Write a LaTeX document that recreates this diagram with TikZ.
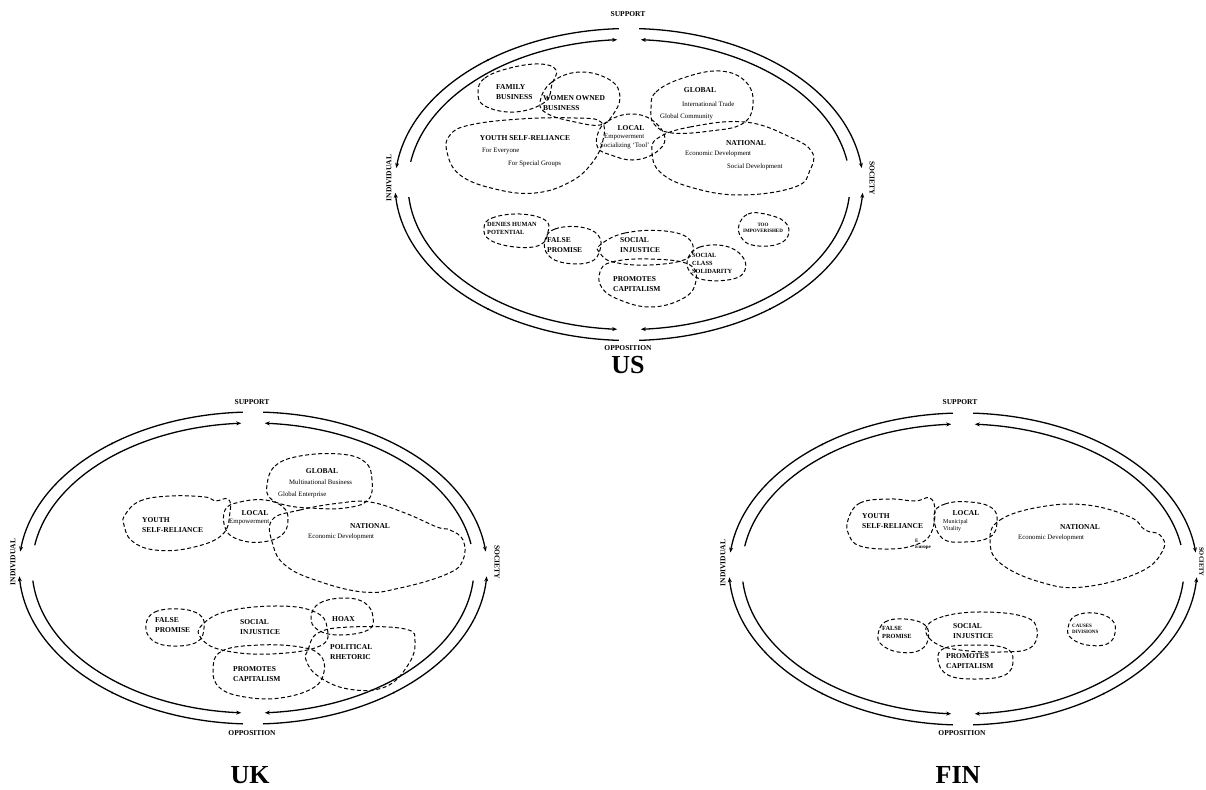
\documentclass[tikz,border=0pt]{standalone}
\usepackage{fontspec}
\setmainfont{Liberation Serif}
\usetikzlibrary{arrows.meta}

% one arc of an elliptic ring: options, centre x, centre y, x radius, y radius, start angle, end angle
\newcommand{\ringarc}[7]{%
  \draw[#1] plot[domain=0:1,samples=70,variable=\t]
    ({#2+(#4)*cos((#6)+((#7)-(#6))*\t)}, {#3-(#5)*sin((#6)+((#7)-(#6))*\t)});}

% the double ring with its circulating arrows, centred at (#1,#2)
\newcommand{\discoursering}[2]{%
  % outer ring: arrows point into the side gaps
  \ringarc{ring}{#1}{#2}{234}{156}{92.5}{174}
  \ringarc{ring}{#1}{#2}{234}{156}{267.5}{183}
  \ringarc{ring}{#1}{#2}{234}{156}{87.5}{6}
  \ringarc{ring}{#1}{#2}{234}{156}{-87.5}{-3}
  % inner ring: arrows point into the top and bottom gaps
  \ringarc{ring}{#1}{#2}{221}{145}{171}{93}
  \ringarc{ring}{#1}{#2}{221}{145}{185}{267}
  \ringarc{ring}{#1}{#2}{221}{145}{9.5}{87}
  \ringarc{ring}{#1}{#2}{221}{145}{-5}{-87}
  % small marks on the outer ring
  \fill ({#1+234*cos(127)},{#2-156*sin(127)}) circle (1.1);
  \fill ({#1+234*cos(233)},{#2-156*sin(233)}) circle (1.1);
  \fill ({#1+234*cos(307)},{#2-156*sin(307)}) circle (1.1);
}

\tikzset{
  ring/.style={line width=1.3pt,-{Stealth[length=5pt,width=4pt]}},
  blob/.style={line width=1pt,dash pattern=on 4pt off 2.5pt},
  ttl/.style={font=\bfseries\fontsize{7.5}{9.5}\selectfont,inner sep=0pt,align=left},
  ttls/.style={font=\bfseries\fontsize{6.3}{8}\selectfont,inner sep=0pt,align=left},
  xs/.style={font=\bfseries\fontsize{5}{6.2}\selectfont,inner sep=0pt,align=left},
  sm/.style={font=\fontsize{6.8}{7.5}\selectfont,inner sep=0pt,align=left},
  axis/.style={font=\bfseries\fontsize{7.5}{8}\selectfont,inner sep=0pt},
  big/.style={font=\bfseries\fontsize{26}{28}\selectfont,inner sep=0pt},
}

\begin{document}
\begin{tikzpicture}[x=1pt,y=-1pt]
\useasboundingbox (0,0) rectangle (1206,789);
\fill[white] (0,0) rectangle (1206,789);

% ================= US =================
\discoursering{629}{184.5}
\node[axis] (us-sup) at (628,14) {SUPPORT};
\node[axis] (us-opp) at (628,348) {OPPOSITION};
\node[axis,rotate=90] (us-ind) at (389,178) {INDIVIDUAL};
\node[axis,rotate=-90] (us-soc) at (872,178) {SOCIETY};
\node[big] (us-name) at (628,365) {US};

\draw[blob] plot[smooth cycle,tension=0.7] coordinates {(478,92) (485,78) (510,68) (540,64) (556,70) (552,84) (545,102) (515,112) (485,106)};
\draw[blob] plot[smooth cycle,tension=0.7] coordinates {(540,102) (552,82) (580,72) (610,80) (620,97) (612,116) (600,125) (575,122) (548,114)};
\draw[blob] plot[smooth cycle,tension=0.7] coordinates {(450,135) (470,125) (520,119) (575,118) (601,122) (603,140) (592,163) (570,182) (535,193) (495,189) (460,175) (447,152)};
\draw[blob] plot[smooth cycle,tension=0.7] coordinates {(598,133) (608,121) (630,114) (652,120) (665,138) (655,153) (633,160) (611,155) (598,148)};
\draw[blob] plot[smooth cycle,tension=0.7] coordinates {(651,108) (656,92) (683,78) (720,71) (746,82) (753,105) (742,124) (710,131) (672,133) (654,124)};
\draw[blob] plot[smooth cycle,tension=0.7] coordinates {(658,138) (690,127) (745,122) (790,137) (812,152) (810,170) (795,187) (740,195) (690,187) (660,172) (652,152)};

\node[ttl,anchor=west] (us-fam) at (496,92) {FAMILY\\BUSINESS};
\node[ttl,anchor=west] (us-wob) at (543,103) {WOMEN OWNED\\BUSINESS};
\node[ttl] (us-ysr) at (525,138) {YOUTH SELF-RELIANCE};
\node[sm,anchor=west] (us-ev) at (482,151) {For Everyone};
\node[sm,anchor=west] (us-sg) at (508,164) {For Special Groups};
\node[ttl] (us-loc) at (631,128) {LOCAL};
\node[sm,anchor=west] (us-emp) at (604,137) {Empowerment};
\node[sm,anchor=west] (us-tool) at (600,146) {Socializing `Tool'};
\node[ttl] (us-glo) at (700,90) {GLOBAL};
\node[sm,anchor=west] (us-it) at (682,104) {International Trade};
\node[sm,anchor=west] (us-gc) at (660,117) {Global Community};
\node[ttl] (us-nat) at (746,143) {NATIONAL};
\node[sm,anchor=west] (us-ed) at (685,154) {Economic Development};
\node[sm,anchor=west] (us-sd) at (727,167) {Social Development};

\draw[blob] plot[smooth cycle,tension=0.7] coordinates {(484,228) (492,218) (520,214) (545,220) (548,232) (540,245) (515,247) (490,240)};
\draw[blob] plot[smooth cycle,tension=0.7] coordinates {(545,240) (555,229) (580,227) (598,235) (600,250) (590,262) (565,263) (548,255)};
\draw[blob] plot[smooth cycle,tension=0.7] coordinates {(600,245) (625,233) (665,231) (690,240) (688,258) (650,265) (613,262) (600,253)};
\draw[blob] plot[smooth cycle,tension=0.7] coordinates {(688,258) (700,247) (725,246) (742,256) (745,270) (733,279) (705,280) (690,272)};
\draw[blob] plot[smooth cycle,tension=0.7] coordinates {(600,272) (612,262) (650,259) (690,265) (695,285) (680,300) (650,307) (620,300) (602,288)};
\draw[blob] plot[smooth cycle,tension=0.7] coordinates {(739,225) (748,214) (765,214) (785,222) (788,236) (775,245) (752,245) (741,237)};

\node[ttls,anchor=west] (us-dhp) at (487,228) {DENIES HUMAN\\POTENTIAL};
\node[ttl,anchor=west] (us-fp) at (547,245) {FALSE\\PROMISE};
\node[ttl,anchor=west] (us-si) at (620,245) {SOCIAL\\INJUSTICE};
\node[ttls,anchor=west] (us-scs) at (692,263) {SOCIAL\\CLASS\\SOLIDARITY};
\node[ttl,anchor=west] (us-pc) at (613,284) {PROMOTES\\CAPITALISM};
\node[xs,align=center] (us-too) at (763,228) {TOO\\IMPOVERISHED};

% ================= UK =================
\discoursering{253}{568}
\node[axis] (uk-sup) at (252,402) {SUPPORT};
\node[axis] (uk-opp) at (252,733) {OPPOSITION};
\node[axis,rotate=90] (uk-ind) at (13,562) {INDIVIDUAL};
\node[axis,rotate=-90] (uk-soc) at (497,562) {SOCIETY};
\node[big] (uk-name) at (250,775) {UK};

\draw[blob] plot[smooth cycle,tension=0.7] coordinates {(125,515) (140,501) (170,496) (205,497) (215,501) (228,499) (230,512) (222,535) (190,548) (155,550) (132,541) (124,525)};
\draw[blob] plot[smooth cycle,tension=0.7] coordinates {(225,510) (240,502) (265,500) (283,507) (288,520) (282,535) (262,542) (240,540) (226,530)};
\draw[blob] plot[smooth cycle,tension=0.7] coordinates {(267,485) (275,466) (300,456) (340,454) (365,462) (372,480) (368,500) (345,508) (310,508) (285,505) (270,498)};
\draw[blob] plot[smooth cycle,tension=0.7] coordinates {(272,520) (300,510) (340,503) (370,502) (405,513) (437,527) (450,530) (463,540) (463,560) (447,574) (400,588) (363,592) (315,580) (285,565) (273,545)};

\node[ttl,anchor=west] (uk-ysr) at (142,525) {YOUTH\\SELF-RELIANCE};
\node[ttl] (uk-loc) at (255,513) {LOCAL};
\node[sm,anchor=west] (uk-emp) at (229,522) {Empowerment};
\node[ttl] (uk-glo) at (322,471) {GLOBAL};
\node[sm,anchor=west] (uk-mb) at (289,482) {Multinational Business};
\node[sm,anchor=west] (uk-ge) at (278,495) {Global Enterprise};
\node[ttl] (uk-nat) at (370,526) {NATIONAL};
\node[sm,anchor=west] (uk-ed) at (308,537) {Economic Development};

\draw[blob] plot[smooth cycle,tension=0.7] coordinates {(146,625) (155,612) (180,609) (200,615) (204,628) (197,642) (172,646) (152,640)};
\draw[blob] plot[smooth cycle,tension=0.7] coordinates {(202,625) (228,611) (280,606) (315,612) (327,627) (320,646) (270,654) (222,650) (201,638)};
\draw[blob] plot[smooth cycle,tension=0.7] coordinates {(311,617) (320,603) (345,598) (365,603) (373,617) (368,630) (340,635) (318,630)};
\draw[blob] plot[smooth cycle,tension=0.7] coordinates {(308,650) (318,633) (350,627) (405,629) (415,642) (408,665) (385,687) (348,689) (318,676) (306,660)};
\draw[blob] plot[smooth cycle,tension=0.7] coordinates {(213,670) (222,651) (260,645) (300,647) (320,655) (324,672) (313,688) (280,698) (245,697) (220,688)};

\node[ttl,anchor=west] (uk-fp) at (155,625) {FALSE\\PROMISE};
\node[ttl,anchor=west] (uk-si) at (240,627) {SOCIAL\\INJUSTICE};
\node[ttl,anchor=west] (uk-hoax) at (332,619) {HOAX};
\node[ttl,anchor=west] (uk-pr) at (330,652) {POLITICAL\\RHETORIC};
\node[ttl,anchor=west] (uk-pc) at (233,674) {PROMOTES\\CAPITALISM};

% ================= FIN =================
\discoursering{963}{569}
\node[axis] (fin-sup) at (960,402) {SUPPORT};
\node[axis] (fin-opp) at (962,733) {OPPOSITION};
\node[axis,rotate=90] (fin-ind) at (723,563) {INDIVIDUAL};
\node[axis,rotate=-90,font=\bfseries\fontsize{6.5}{7}\selectfont] (fin-soc) at (1201.5,562) {SOCIETY};
\node[big] (fin-name) at (958,775) {FIN};

\draw[blob] plot[smooth cycle,tension=0.7] coordinates {(848,520) (860,503) (890,499) (915,501) (930,498) (935,512) (930,535) (915,545) (890,549) (860,546) (849,535)};
\draw[blob] plot[smooth cycle,tension=0.7] coordinates {(934,515) (945,504) (970,502) (992,508) (997,522) (990,537) (965,542) (942,538)};
\draw[blob] plot[smooth cycle,tension=0.7] coordinates {(990,540) (1000,520) (1040,507) (1087,505) (1130,517) (1145,530) (1160,535) (1163,550) (1140,572) (1083,587) (1040,582) (1000,563)};

\node[ttl,anchor=west] (fin-ysr) at (862,521) {YOUTH\\SELF-RELIANCE};
\node[xs,anchor=west] (fin-eu) at (915,544) {E\\Europe};
\node[ttl] (fin-loc) at (966,513) {LOCAL};
\node[sm,anchor=west,font=\fontsize{6}{7}\selectfont] (fin-mv) at (943,526) {Municipal\\Vitality};
\node[ttl] (fin-nat) at (1080,527) {NATIONAL};
\node[sm,anchor=west] (fin-ed) at (1018,538) {Economic Development};

\draw[blob] plot[smooth cycle,tension=0.7] coordinates {(878,635) (885,622) (905,619) (925,625) (928,640) (918,651) (898,652) (882,645)};
\draw[blob] plot[smooth cycle,tension=0.7] coordinates {(926,628) (945,616) (985,612) (1025,617) (1037,630) (1030,648) (1000,652) (960,650) (935,643)};
\draw[blob] plot[smooth cycle,tension=0.7] coordinates {(938,660) (945,648) (975,645) (1005,648) (1013,660) (1005,675) (975,679) (948,675)};
\draw[blob] plot[smooth cycle,tension=0.7] coordinates {(1068,628) (1075,616) (1095,613) (1112,620) (1115,633) (1107,644) (1087,645) (1071,638)};

\node[ttls,anchor=west] (fin-fp) at (882,632) {FALSE\\PROMISE};
\node[ttl,anchor=west] (fin-si) at (953,631) {SOCIAL\\INJUSTICE};
\node[ttl,anchor=west] (fin-pc) at (946,661) {PROMOTES\\CAPITALISM};
\node[xs,anchor=west] (fin-cd) at (1072,629) {CAUSES\\DIVISIONS};
\end{tikzpicture}
\end{document}
